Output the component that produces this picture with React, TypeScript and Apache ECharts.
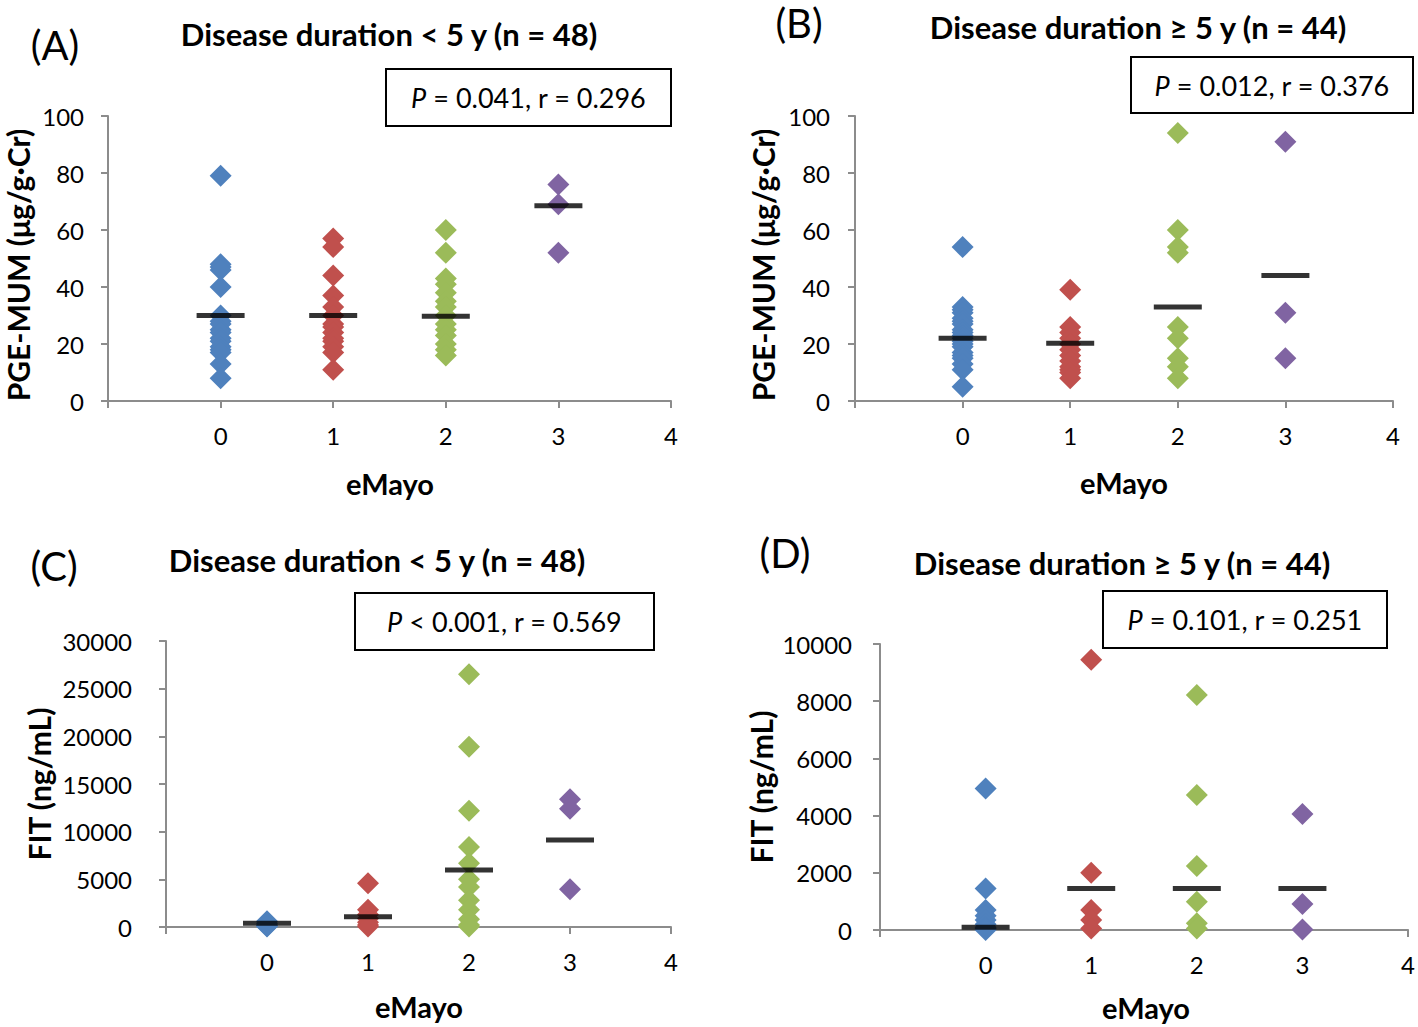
import React, { useEffect, useRef } from "react";
import * as echarts from "echarts";

const groupLabels = [0, 1, 2, 3];
const groupColors = ["#4F81BD", "#C0504D", "#9BBB59", "#8064A2"];
const xTicks = [0, 1, 2, 3, 4];

// Panel A: PGE-MUM, disease duration < 5 y
const pgeShortG0 = [79, 48, 47, 46, 40, 30, 28, 27, 25, 24, 22, 21, 19, 18, 17, 13, 8];
const pgeShortG1 = [57, 54, 44, 37, 33, 30, 27, 26, 24, 22, 21, 19, 17, 11];
const pgeShortG2 = [60, 52, 43, 41, 38, 35, 33, 30, 27, 25, 23, 20, 18, 16];
const pgeShortG3 = [76, 69, 52];
const pgeShortLine = [30, 30, 29.7, 68.5];

// Panel B: PGE-MUM, disease duration >= 5 y
const pgeLongG0 = [54, 33, 32, 31, 29, 28, 27, 25, 24, 23, 22, 21, 20, 19, 17, 16, 15, 13, 11, 5];
const pgeLongG1 = [39, 26, 24, 22, 20, 18, 16, 14, 12, 11, 10, 8];
const pgeLongG2 = [94, 60, 54, 52, 26, 22, 15, 12, 8];
const pgeLongG3 = [91, 31, 15];
const pgeLongLine = [22, 20.3, 33, 44];

// Panel C: FIT, disease duration < 5 y
const fitShortG0 = [600, 400, 200, 100, 50];
const fitShortG1 = [4600, 1800, 1300, 900, 500, 200, 50];
const fitShortG2 = [26500, 18900, 12200, 8400, 6700, 5000, 4200, 2800, 1800, 800, 200, 50];
const fitShortG3 = [13400, 12400, 3950];
const fitShortLine = [400, 1080, 5980, 9130];

// Panel D: FIT, disease duration >= 5 y
const fitLongG0 = [4950, 1450, 700, 500, 350, 200, 100, 50, 0];
const fitLongG1 = [9450, 2000, 700, 350, 50];
const fitLongG2 = [8220, 4720, 2240, 990, 240, 50];
const fitLongG3 = [4060, 910, 20];
const fitLongLine = [95, 1450, 1450, 1450];

const panelLetters = ["(A)", "(B)", "(C)", "(D)"];
const panelTitles = [
  "Disease duration < 5 y (n = 48)",
  "Disease duration \u2265 5 y (n = 44)",
  "Disease duration < 5 y (n = 48)",
  "Disease duration \u2265 5 y (n = 44)",
];
const statP = ["= 0.041, r = 0.296", "= 0.012, r = 0.376", "< 0.001, r = 0.569", "= 0.101, r = 0.251"];
const yNames = ["PGE-MUM (\u03bcg/g\u00b7Cr)", "PGE-MUM (\u03bcg/g\u00b7Cr)", "FIT (ng/mL)", "FIT (ng/mL)"];
const xName = "eMayo";
const yMax = [100, 100, 30000, 10000];
const yStep = [20, 20, 5000, 2000];

const panelGroups = [
  [pgeShortG0, pgeShortG1, pgeShortG2, pgeShortG3],
  [pgeLongG0, pgeLongG1, pgeLongG2, pgeLongG3],
  [fitShortG0, fitShortG1, fitShortG2, fitShortG3],
  [fitLongG0, fitLongG1, fitLongG2, fitLongG3],
];
const panelLines = [pgeShortLine, pgeLongLine, fitShortLine, fitLongLine];

// layout
const grids = [
  { left: 108, top: 116, width: 563, height: 285 },
  { left: 855, top: 116, width: 538, height: 285 },
  { left: 166, top: 641, width: 505, height: 286 },
  { left: 880, top: 644, width: 531, height: 286 },
];
const yLabelMargin = [24, 25, 34, 28];
const letterPos = [[55, 45], [799, 23], [54, 566], [785, 553]];
const titlePos = [[389, 34], [1138, 27], [377, 560], [1122, 563]];
const boxPos = [
  [386, 69, 285, 57],
  [1131, 57, 282, 56],
  [355, 593, 299, 57],
  [1103, 591, 284, 57],
];
const yNamePos = [[18, 265], [763, 265], [39, 784], [761, 787]];
const xNamePos = [[390, 483], [1124, 482], [419, 1006], [1146, 1007]];

const FONT = "Lato, 'Open Sans', sans-serif";
const AXIS_COLOR = "#8C8C8C";

export default function App() {
  const ref = useRef<HTMLDivElement>(null);
  useEffect(() => {
    if (!ref.current) return;
    const chart = echarts.init(ref.current, null, { renderer: "svg" });

    const xAxis: any[] = [];
    const yAxis: any[] = [];
    const series: any[] = [];
    const graphic: any[] = [];

    grids.forEach((g, i) => {
      xAxis.push({
        type: "value",
        gridIndex: i,
        min: -1,
        max: 4,
        interval: 1,
        axisLine: { show: true, onZero: false, lineStyle: { color: AXIS_COLOR, width: 2 } },
        axisTick: { show: true, length: 7, lineStyle: { color: AXIS_COLOR, width: 2 } },
        splitLine: { show: false },
        axisLabel: {
          margin: 22,
          fontSize: 24,
          color: "#000",
          fontFamily: FONT,
          formatter: (v: number) => (xTicks.indexOf(v) >= 0 ? String(v) : ""),
        },
      });
      yAxis.push({
        type: "value",
        gridIndex: i,
        min: 0,
        max: yMax[i],
        interval: yStep[i],
        axisLine: { show: true, onZero: false, lineStyle: { color: AXIS_COLOR, width: 2 } },
        axisTick: { show: true, length: 7, lineStyle: { color: AXIS_COLOR, width: 2 } },
        splitLine: { show: false },
        axisLabel: {
          margin: yLabelMargin[i],
          fontSize: 24,
          color: "#000",
          fontFamily: FONT,
          formatter: (v: number) => String(v),
        },
      });

      panelGroups[i].forEach((vals, k) => {
        series.push({
          type: "scatter",
          xAxisIndex: i,
          yAxisIndex: i,
          symbol: "diamond",
          symbolSize: 22,
          clip: false,
          itemStyle: { color: groupColors[k], opacity: 1 },
          data: vals.map((v) => [groupLabels[k], v]),
          z: 2,
        });
      });
      series.push({
        type: "scatter",
        xAxisIndex: i,
        yAxisIndex: i,
        symbol: "rect",
        symbolSize: [48, 5],
        clip: false,
        itemStyle: { color: "#000" },
        data: panelLines[i].map((v, k) => [groupLabels[k], v]),
        z: 3,
      });

      graphic.push({
        type: "text",
        x: letterPos[i][0],
        y: letterPos[i][1],
        style: {
          text: panelLetters[i],
          font: `40px ${FONT}`,
          fill: "#000",
          textAlign: "center",
          textVerticalAlign: "middle",
        },
      });
      graphic.push({
        type: "text",
        x: titlePos[i][0],
        y: titlePos[i][1],
        style: {
          text: panelTitles[i],
          font: `bold 31px ${FONT}`,
          fill: "#000",
          textAlign: "center",
          textVerticalAlign: "middle",
        },
      });
      const [bx, by, bw, bh] = boxPos[i];
      graphic.push({
        type: "rect",
        shape: { x: bx, y: by, width: bw, height: bh },
        style: { fill: "#fff", stroke: "#000", lineWidth: 2 },
        z: 10,
      });
      graphic.push({
        type: "text",
        x: bx + bw / 2,
        y: by + bh / 2,
        z: 11,
        style: {
          text: `{i|P} {n|${statP[i]}}`,
          textAlign: "center",
          textVerticalAlign: "middle",
          rich: {
            i: { fontStyle: "italic", fontSize: 27, fontFamily: FONT, fill: "#000" },
            n: { fontSize: 27, fontFamily: FONT, fill: "#000" },
          },
          font: `27px ${FONT}`,
          fill: "#000",
        },
      });
      graphic.push({
        type: "text",
        x: yNamePos[i][0],
        y: yNamePos[i][1],
        rotation: Math.PI / 2,
        style: {
          text: yNames[i],
          font: `bold 30px ${FONT}`,
          fill: "#000",
          textAlign: "center",
          textVerticalAlign: "middle",
        },
      });
      graphic.push({
        type: "text",
        x: xNamePos[i][0],
        y: xNamePos[i][1],
        style: {
          text: xName,
          font: `bold 29px ${FONT}`,
          fill: "#000",
          textAlign: "center",
          textVerticalAlign: "middle",
        },
      });
    });

    chart.setOption({
      animation: false,
      backgroundColor: "#fff",
      grid: grids.map((g) => ({ ...g, containLabel: false })),
      xAxis,
      yAxis,
      series,
      graphic,
    });
    return () => chart.dispose();
  }, []);

  return (
    <div
      ref={ref}
      style={{ position: "absolute", left: 0, top: 0, width: 1418, height: 1027 }}
    />
  );
}
